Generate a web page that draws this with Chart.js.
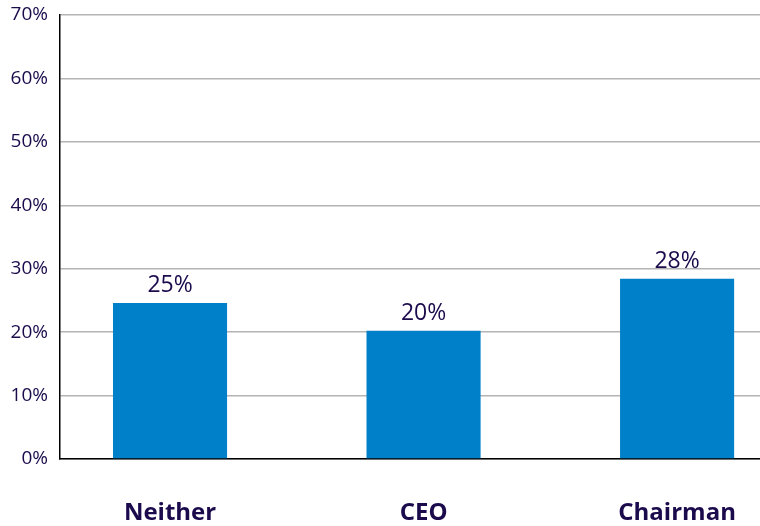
<!DOCTYPE html>
<html>
<head>
<meta charset="utf-8">
<script src="https://cdn.jsdelivr.net/npm/chart.js@4/dist/chart.umd.min.js"></script>
<style>
  html, body { margin: 0; padding: 0; background: #fff; }
  #wrap { width: 760px; height: 526px; position: relative; }
</style>
</head>
<body>
<div id="wrap"><canvas id="c"></canvas></div>
<script>
  // values
  const categories = ["Neither", "CEO", "Chairman"];
  const shares = [24.6, 20.2, 28.4];
  const shareLabels = ["25%", "20%", "28%"];
  const yTicks = [0, 10, 20, 30, 40, 50, 60, 70];

  const INK = "#1b0a4c";
  const BAR = "#0080c8";
  const FONT = "'Open Sans', sans-serif";

  // value labels above the bars
  const valueLabels = {
    id: "valueLabels",
    afterDatasetsDraw(chart) {
      const { ctx } = chart;
      const meta = chart.getDatasetMeta(0);
      ctx.save();
      ctx.fillStyle = INK;
      ctx.font = "23px " + FONT;
      ctx.textAlign = "center";
      ctx.textBaseline = "alphabetic";
      meta.data.forEach((bar, i) => ctx.fillText(shareLabels[i], bar.x, bar.y - 11));
      ctx.restore();
    },
  };

  // the original plot is cut at the right edge, so the category slots are
  // laid on a linear axis whose range is a little off-centre
  new Chart(document.getElementById("c"), {
    type: "bar",
    data: {
      datasets: [{
        data: shares.map((v, i) => ({ x: i, y: v })),
        backgroundColor: BAR, borderWidth: 0, barPercentage: 0.45, categoryPercentage: 1,
      }],
    },
    options: {
      responsive: true, maintainAspectRatio: false, animation: false,
      layout: { padding: { top: 15, right: 0, bottom: 0, left: 0 } },
      plugins: { legend: { display: false }, tooltip: { enabled: false } },
      scales: {
        x: {
          type: "linear", offset: false, min: -0.434, max: 2.327,
          afterBuildTicks: (s) => { s.ticks = categories.map((_, i) => ({ value: i })); },
          grid: { display: false, drawTicks: false },
          border: { color: "#000", width: 1.5 },
          ticks: { color: INK, font: { family: FONT, size: 24, weight: "bold" }, padding: 40, callback: (v) => categories[v] },
          afterFit: (s) => { s.height = 67; s.paddingLeft = 0; s.paddingRight = 0; },
        },
        y: {
          min: 0, max: 70,
          afterBuildTicks: (s) => { s.ticks = yTicks.map((v) => ({ value: v })); },
          grid: { color: "#b4b4b4", lineWidth: 1.5, drawTicks: false },
          border: { color: "#000", width: 1.5 },
          ticks: { color: INK, font: { family: FONT, size: 19 }, padding: 12, callback: (v) => v + "%" },
          afterFit: (s) => { s.width = 60; s.paddingTop = 0; s.paddingBottom = 0; },
        },
      },
    },
    plugins: [valueLabels],
  });
</script>
</body>
</html>
